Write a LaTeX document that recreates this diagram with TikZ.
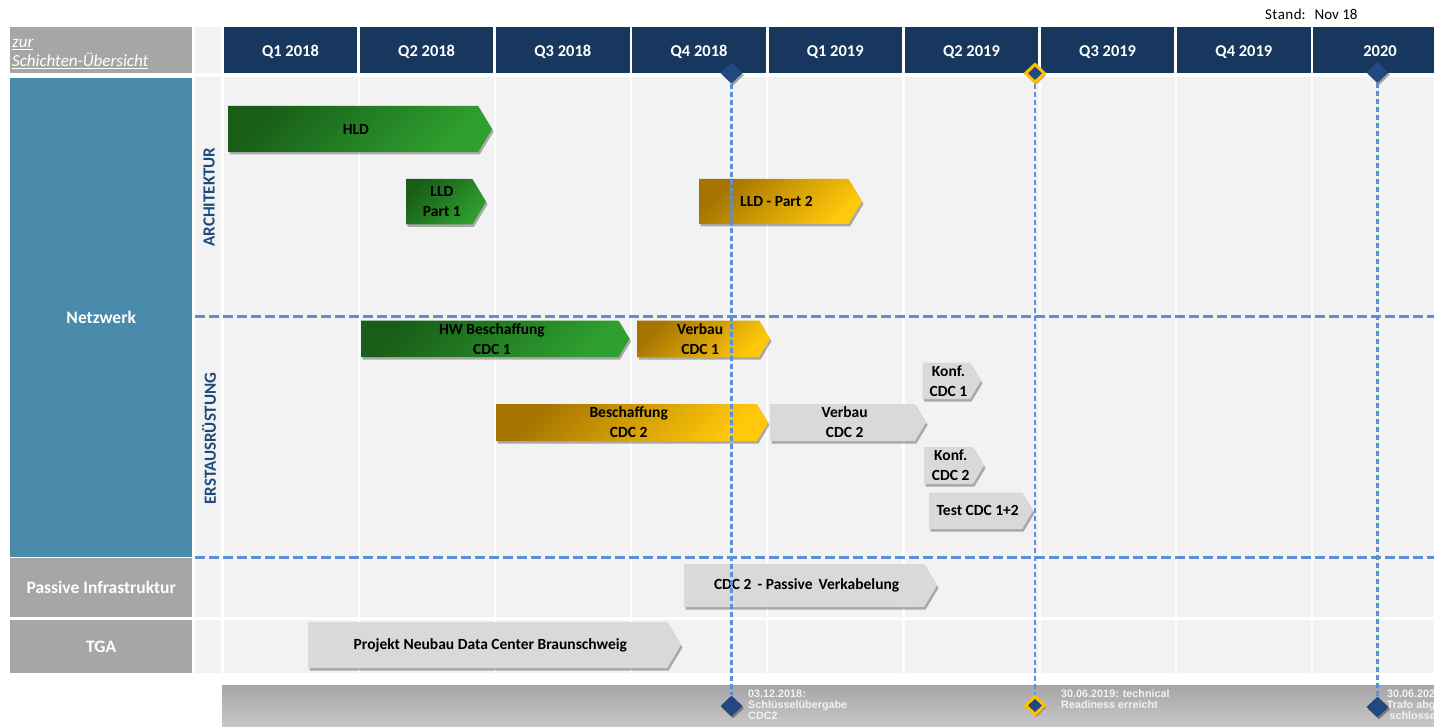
\documentclass[tikz,border=0pt]{standalone}
\usepackage{fontspec}
\setmainfont{Carlito}
\newfontfamily\msfamily{Liberation Sans}
\usetikzlibrary{shapes.geometric,shadows}

\definecolor{navy}{HTML}{17375E}
\definecolor{netblue}{HTML}{4A8AAB}
\definecolor{sidegray}{HTML}{A6A6A6}
\definecolor{cellgray}{HTML}{F2F2F2}
\definecolor{labelblue}{HTML}{1F497D}
\definecolor{dashblue}{HTML}{5B8FD6}
\definecolor{gdark}{HTML}{185E18}
\definecolor{glight}{HTML}{2FA02F}
\definecolor{ydark}{HTML}{A47300}
\definecolor{ylight}{HTML}{FFC80A}
\definecolor{bargray}{HTML}{D9D9D9}
\definecolor{msblue}{HTML}{21497F}
\definecolor{msgold}{HTML}{FFC000}
\definecolor{bandtop}{HTML}{A6A6A6}
\definecolor{bandbot}{HTML}{C8C8C8}

\newcommand\hdrfont{\fontsize{16.5}{19}\selectfont\bfseries}
\newcommand\sidefont{\fontsize{17.5}{20}\selectfont\bfseries}
\newcommand\subfont{\fontsize{17}{20}\selectfont\bfseries}
\newcommand\barfont{\fontsize{15.5}{20}\selectfont\bfseries}
\newcommand\msfont{\msfamily\fontsize{10.8}{11}\selectfont\bfseries}
\newcommand\zurfont{\fontsize{17}{19}\selectfont\itshape}

% chevron task bar: style, name, x1, y1, x2, y2, label
\newcommand\chevbar[7]{%
  \pgfmathsetmacro\tiplen{0.3*(#6-#4)}%
  \path[#1] (#3,#4) -- ({#5-\tiplen},#4) -- (#5,{(#4+#6)/2})
        -- ({#5-\tiplen},#6) -- (#3,#6) -- cycle;
  \node[bartext] (#2) at ({(#3+#5)/2-0.3*\tiplen},{(#4+#6)/2}) {#7};}

\begin{document}
\begin{tikzpicture}[x=1pt,y=-1pt,
  hdr/.style={anchor=north west, fill=navy, text=white, font=\hdrfont,
    minimum width=133.5pt, minimum height=46pt, inner sep=0pt},
  sidebox/.style={anchor=north west, fill=sidegray, text=white, font=\sidefont,
    minimum width=182pt, inner sep=0pt},
  sublabel/.style={rotate=90, text=labelblue, font=\subfont, inner sep=0pt},
  bartext/.style={align=center, font=\barfont, text=black, inner sep=0pt},
  barshadow/.style={drop shadow={shadow xshift=1.5pt, shadow yshift=-2.5pt,
    opacity=0.3, fill=black}},
  greenbar/.style={barshadow, top color=gdark, bottom color=glight, shading angle=45},
  goldbar/.style={barshadow, top color=ydark, bottom color=ylight, shading angle=45},
  graybar/.style={barshadow, fill=bargray},
  gridline/.style={dashblue, line width=3pt, dash pattern=on 10pt off 4pt},
  msline/.style={dashblue, line width=2.2pt, dash pattern=on 5pt off 3pt},
  milestone/.style={diamond, fill=msblue, minimum width=22pt, minimum height=21pt,
    inner sep=0pt, drop shadow={shadow xshift=1.5pt, shadow yshift=-2pt,
    opacity=0.35, fill=black}},
  goldstone/.style={milestone, draw=msgold, line width=3pt,
    minimum width=20pt, minimum height=19pt},
  mstext/.style={anchor=north west, align=left, font=\msfont, text=white!95!black,
    inner sep=0pt},
]
\clip (0,0) rectangle (1434,727);
\fill[white] (0,0) rectangle (1434,727);

% date stamp
\node[anchor=base west, font=\fontsize{15}{18}\selectfont, inner sep=0pt] (stand)
  at (1265,20) {S\hspace{0.4pt}t\hspace{0.4pt}a\hspace{0.4pt}n\hspace{0.4pt}d:\hspace{9pt}Nov 18};

% header row
\fill[sidegray] (10,27.3) rectangle (192,73.3);
\node[anchor=base west, text=white, font=\zurfont, inner sep=0pt] (zur1)
  at (12,48) {\underline{zur}};
\node[anchor=base west, text=white, font=\zurfont, inner sep=0pt] (zur2)
  at (12,67) {\underline{Schichten-Übersicht}};
\fill[cellgray] (195,27.3) rectangle (220.5,73.3);
\foreach \i/\lab in {0/{Q1 2018},1/{Q2 2018},2/{Q3 2018},3/{Q4 2018},
    4/{Q1 2019},5/{Q2 2019},6/{Q3 2019},7/{Q4 2019},8/{2020}}
  \node[hdr, text height=13pt, text depth=0pt] (h\i) at ({223.5+136.2*\i},27.3) {\lab};

% row labels
\node[sidebox, fill=netblue, minimum height=479pt] (netz) at (10,78) {Netzwerk};
\node[sidebox, minimum height=59pt] (pass) at (10,558) {Passive Infrastruktur};
\node[sidebox, minimum height=53pt] (tga) at (10,620) {TGA};

% grid cells
\foreach \y/\h in {77/480, 559/58, 620/53} {
  \fill[cellgray] (195,\y) rectangle +(26,\h);
  \foreach \i in {0,...,8}
    \fill[cellgray] ({223.5+136.2*\i},\y) rectangle +(134,\h);
}

% layer labels
\node[sublabel] (arch) at (209,197) {ARCHITEKTUR};
\node[sublabel] (erst) at (209,438.5) {ERSTAUSRÜSTUNG};

% layer separators
\draw[gridline] (195,316) -- (1434,316);
\draw[gridline] (195,557) -- (1434,557);

% milestone band
\shade[top color=bandtop, bottom color=bandbot] (222,685) rectangle (1434,727);

% task bars
\chevbar{greenbar}{hld}{228}{106}{492}{152}{HLD}
\chevbar{greenbar}{lld1}{406}{179}{486}{224.5}{LLD\\Part 1}
\chevbar{goldbar}{lld2}{699}{179}{862}{224}{LLD - Part 2}
\chevbar{greenbar}{hwb}{361}{320.5}{629.5}{357}{HW Beschaffung\\CDC 1}
\chevbar{goldbar}{verb1}{637}{320.5}{770}{357}{Verbau\\CDC 1}
\chevbar{graybar}{konf1}{922.5}{362.5}{981}{399}{Konf.\\CDC 1}
\chevbar{goldbar}{besch2}{496}{404}{768}{441}{Beschaffung\\CDC 2}
\chevbar{graybar}{verb2}{770}{404}{926}{441}{Verbau\\CDC 2}
\chevbar{graybar}{konf2}{924}{447}{984}{484}{Konf.\\CDC 2}
\chevbar{graybar}{test}{929}{492.5}{1033}{529}{Test CDC 1+2}
\chevbar{graybar}{pverk}{684}{564}{937}{607}{CDC 2 \,- Passive \,Verkabelung}
\chevbar{graybar}{neubau}{308}{622}{681}{668}{Projekt Neubau Data Center Braunschweig}

% milestones
\node[milestone] (m1t) at (731.5,73) {};
\node[milestone] (m1b) at (731.5,706) {};
\node[goldstone] (m2t) at (1035,73.3) {};
\node[goldstone] (m2b) at (1035,705.5) {};
\node[milestone] (m3t) at (1377.5,72.5) {};
\node[milestone] (m3b) at (1377.5,707) {};
\draw[msline] (m1t.south) -- (m1b.north);
\draw[msline] (m2t.south) -- (m2b.north);
\draw[msline] (m3t.south) -- (m3b.north);

\node[mstext] (ms1) at (748,689.5) {03.12.2018:\\Schlüsselübergabe\\CDC2};
\node[mstext] (ms2) at (1061,689.5) {30.06.2019: technical\\Readiness erreicht};
\node[mstext, anchor=north, align=center] (ms3) at (1416,689.5)
  {30.06.2020:\\Trafo abge-\\schlossen};
\end{tikzpicture}
\end{document}
